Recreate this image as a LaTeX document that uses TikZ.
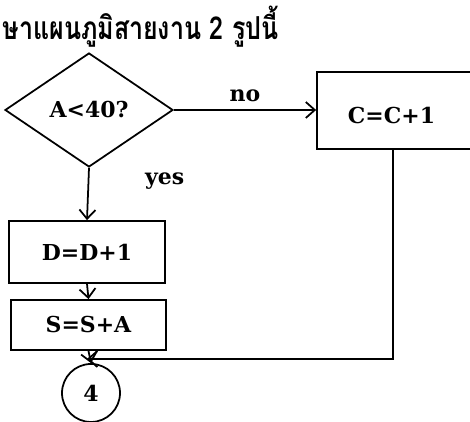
\documentclass[tikz,border=0pt]{standalone}
\usepackage{fontspec}
\usepackage{graphicx}
\usepackage{tikz}
\usetikzlibrary{shapes.geometric, arrows.meta}
\newfontfamily\labelfont{DejaVu Serif}
\newfontfamily\thaifont[Script=Thai]{Loma}

\begin{document}
\begin{tikzpicture}[line width=1pt, >={Straight Barb[length=1.8mm, width=3.2mm]},
  every node/.style={font=\labelfont\bfseries\fontsize{12.5}{15}\selectfont},
  proc/.style={draw, rectangle, inner sep=0pt},
  test/.style={draw, diamond, inner sep=0pt, minimum width=3.36cm, minimum height=2.28cm}]
\useasboundingbox (0,0) rectangle (9.4,8.44);
\clip (0,0) rectangle (9.4,8.44);

\node[anchor=west, font=\thaifont\bfseries\fontsize{18}{22}\selectfont] (title) at (-0.08,7.9)
  {\scalebox{0.79}[1]{ษาแผนภูมิสายงาน 2 รูปนี้}};

\node[test] (dec) at (1.78,6.24) {A<40?};
\node[proc, minimum width=3.26cm, text height=1.03cm, text depth=0.51cm] (cinc) at (7.97,6.23) {C=C+1\kern0.28cm};
\node[proc, minimum width=3.12cm, minimum height=1.24cm] (dinc) at (1.74,3.40) {D=D+1};
\node[proc, minimum width=3.1cm, minimum height=1.0cm] (sinc) at (1.77,1.94) {S=S+A};
\node[draw, circle, minimum size=1.16cm, inner sep=0pt] (conn) at (1.82,0.58) {4};
\coordinate (merge) at (1.74,1.26);

\draw[->] (dec.east) -- (dec.east -| cinc.west) node[midway, above=1pt] {no};
\draw[->] (dec.south) -- (dinc.north) node[pos=0.26, right=1.0cm] {yes};
\draw[->] (dinc.south) -- (sinc.north);
\draw[->] (sinc.south) -- (conn.north);
\draw[->] (7.86,0 |- cinc.south) |- (merge);
\end{tikzpicture}
\end{document}
